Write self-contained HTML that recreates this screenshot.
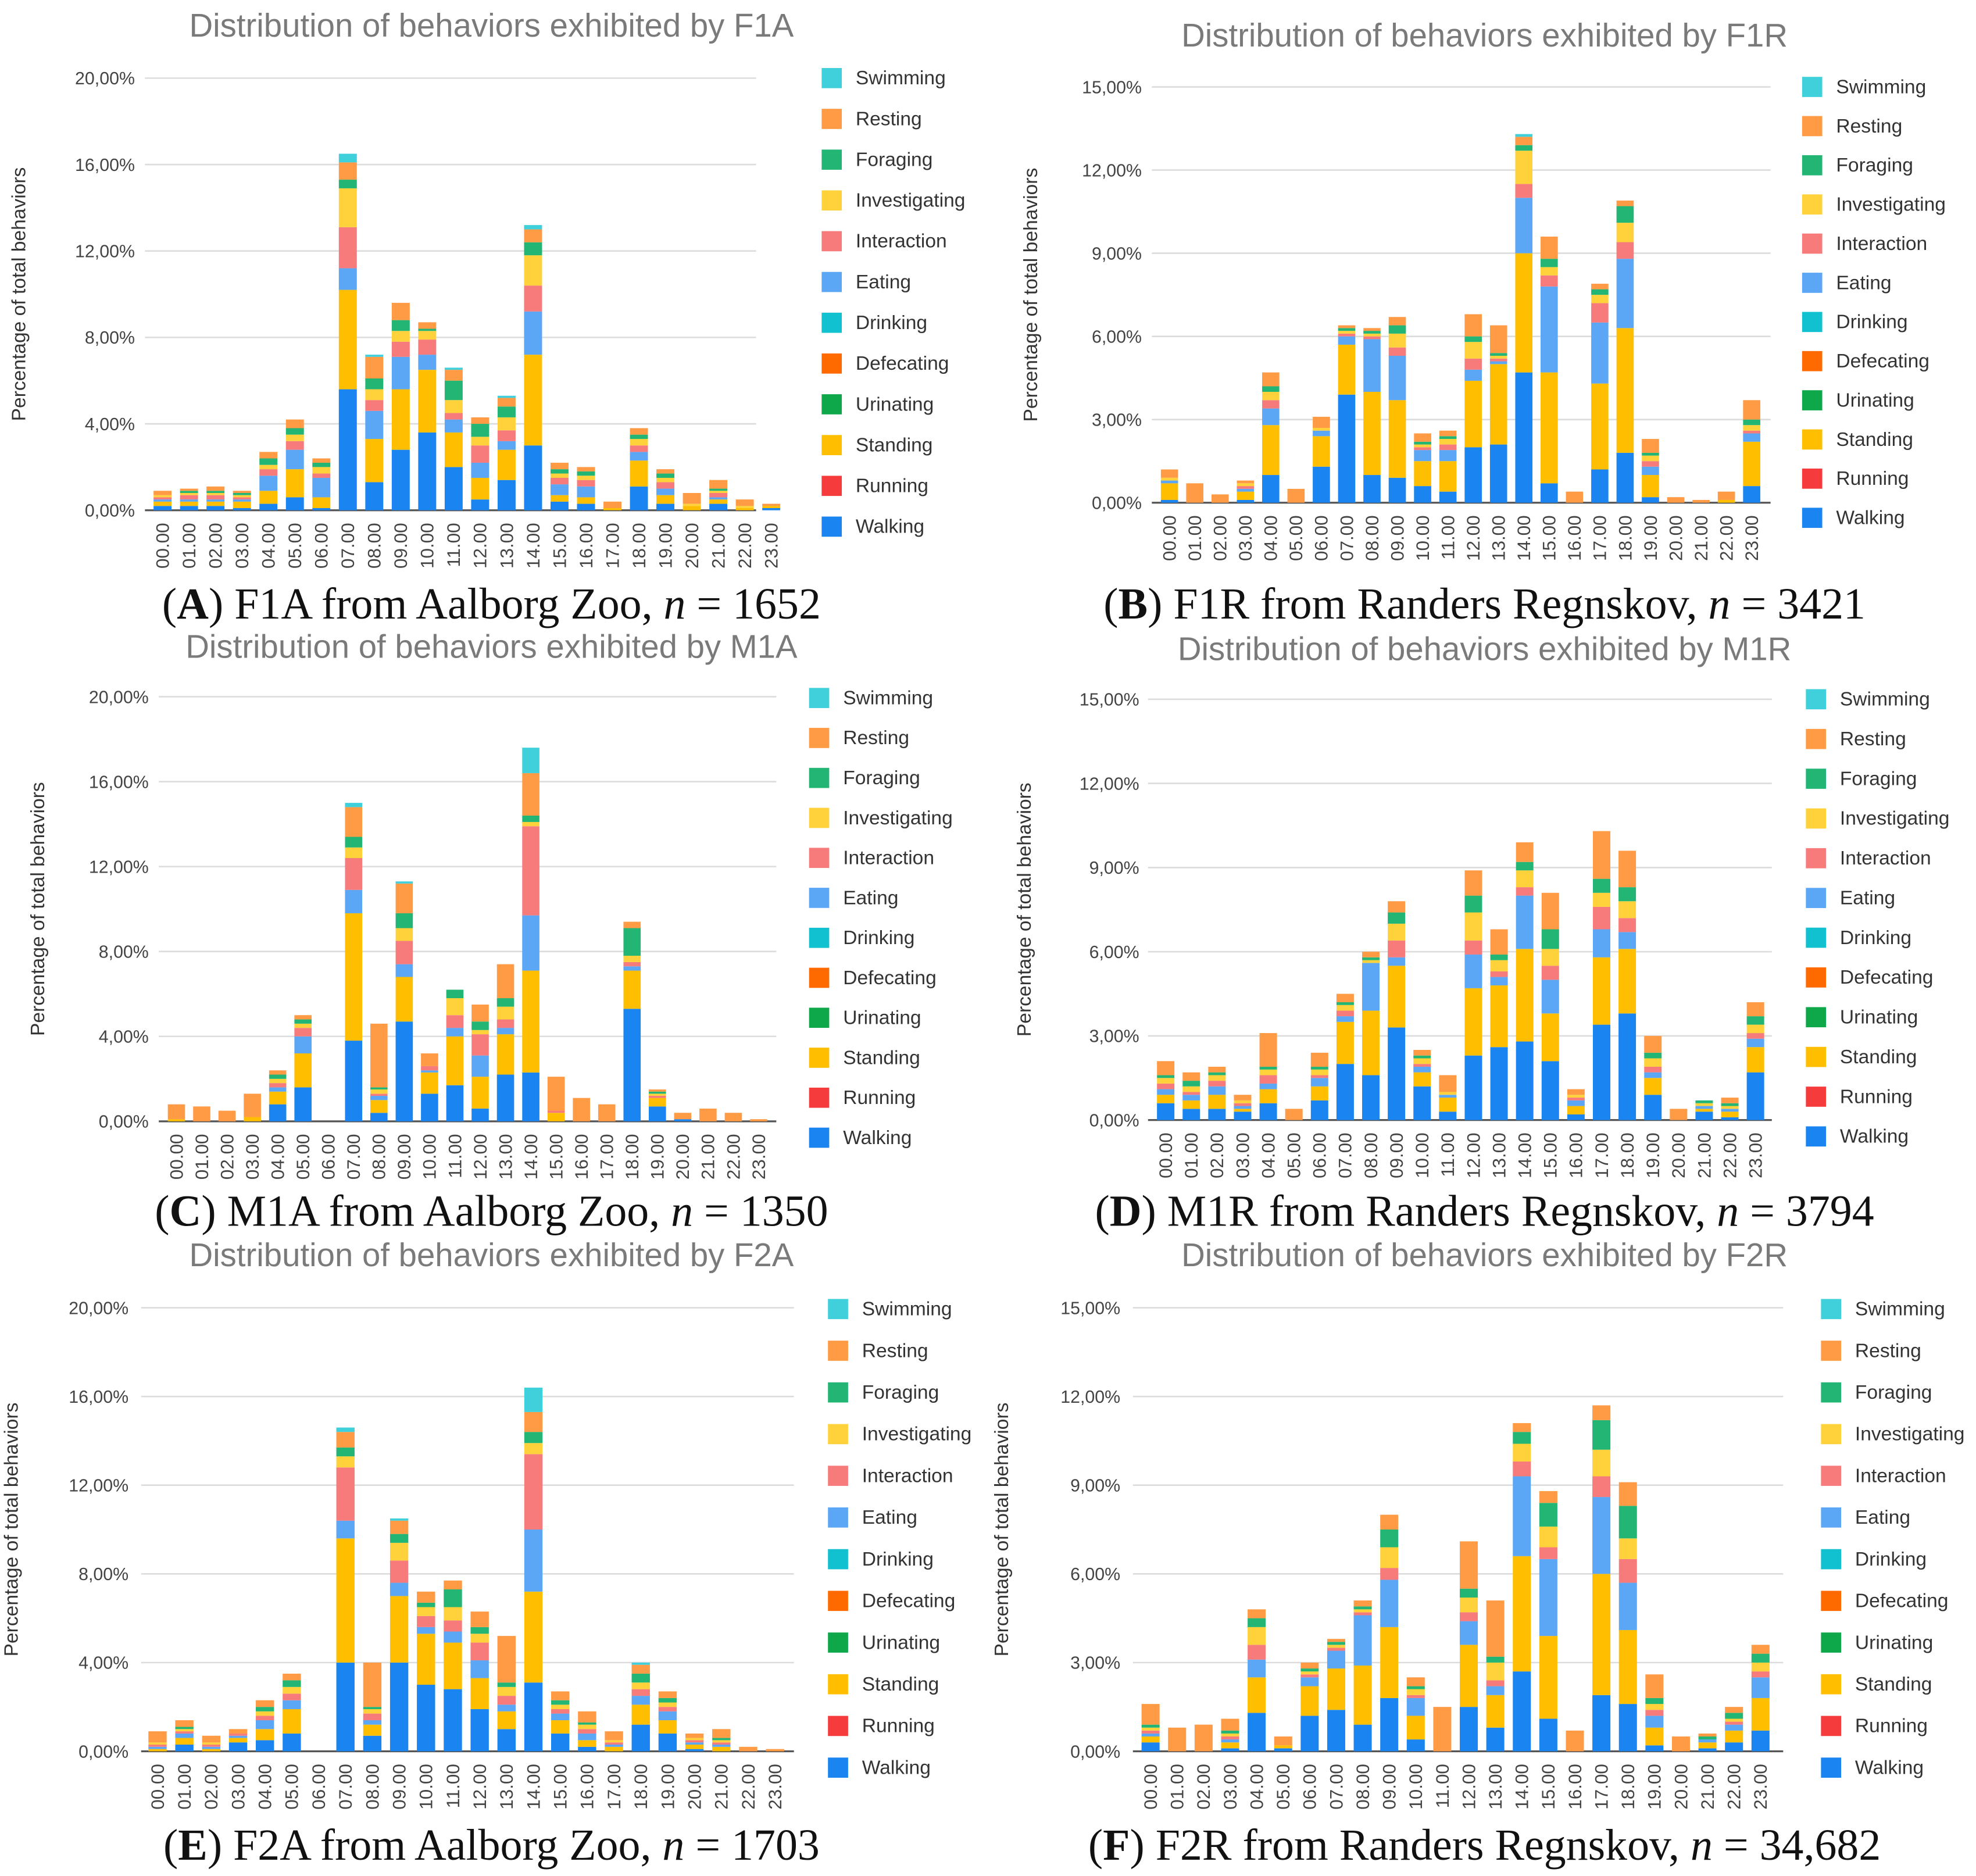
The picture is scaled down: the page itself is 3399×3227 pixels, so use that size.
<!DOCTYPE html>
<html><head><meta charset="utf-8">
<style>
html,body{margin:0;padding:0;background:#fff;}
svg{display:block;}
</style></head>
<body>
<svg id="fig" xmlns="http://www.w3.org/2000/svg" width="3399" height="3227" viewBox="0 0 1568 1489" preserveAspectRatio="none"></svg>
<script>
const hourLabels=["00.00","01.00","02.00","03.00","04.00","05.00","06.00","07.00","08.00","09.00","10.00","11.00","12.00","13.00","14.00","15.00","16.00","17.00","18.00","19.00","20.00","21.00","22.00","23.00"];
const legendNames=["Swimming","Resting","Foraging","Investigating","Interaction","Eating","Drinking","Defecating","Urinating","Standing","Running","Walking"];
const stackOrder=["Walking","Standing","Eating","Interaction","Investigating","Foraging","Resting","Swimming"];
const ticksA=[0,4,8,12,16,20];
const ticksR=[0,3,6,9,12,15];

const F1A_walking=[0.2,0.2,0.2,0.1,0.3,0.6,0.1,5.6,1.3,2.8,3.6,2.0,0.5,1.4,3.0,0.4,0.3,0,1.1,0.3,0,0.3,0,0.1];
const F1A_standing=[0.2,0.2,0.2,0.3,0.6,1.3,0.5,4.6,2.0,2.8,2.9,1.6,1.0,1.4,4.2,0.3,0.3,0.1,1.2,0.4,0.2,0.2,0.1,0.1];
const F1A_eating=[0.1,0.1,0.1,0.1,0.7,0.9,0.9,1.0,1.3,1.5,0.7,0.6,0.7,0.4,2.0,0.5,0.5,0,0.4,0.3,0,0.1,0,0];
const F1A_interaction=[0.1,0.2,0.2,0.1,0.3,0.4,0.2,1.9,0.5,0.7,0.7,0.3,0.8,0.5,1.2,0.3,0.3,0,0.3,0.3,0,0.2,0,0];
const F1A_investigating=[0.1,0.1,0.1,0.1,0.2,0.3,0.3,1.8,0.5,0.5,0.4,0.6,0.4,0.6,1.4,0.2,0.2,0,0.3,0.2,0.1,0.1,0.1,0];
const F1A_foraging=[0,0.1,0.1,0.1,0.3,0.3,0.2,0.4,0.5,0.5,0.1,0.9,0.6,0.5,0.6,0.2,0.2,0,0.2,0.2,0,0.1,0,0];
const F1A_resting=[0.2,0.1,0.2,0.1,0.3,0.4,0.2,0.8,1.0,0.8,0.3,0.5,0.3,0.4,0.6,0.3,0.2,0.3,0.3,0.2,0.5,0.4,0.3,0.1];
const F1A_swimming=[0,0,0,0,0,0,0,0.4,0.1,0,0,0.1,0,0.1,0.2,0,0,0,0,0,0,0,0,0];

const F1R_walking=[0.1,0,0,0.1,1.0,0,1.3,3.9,1.0,0.9,0.6,0.4,2.0,2.1,4.7,0.7,0,1.2,1.8,0.2,0,0,0,0.6];
const F1R_standing=[0.6,0,0,0.3,1.8,0,1.1,1.8,3.0,2.8,0.9,1.1,2.4,2.9,4.3,4.0,0,3.1,4.5,0.8,0,0,0.1,1.6];
const F1R_eating=[0.1,0,0,0.1,0.6,0,0.2,0.3,1.9,1.6,0.4,0.4,0.4,0.1,2.0,3.1,0,2.2,2.5,0.3,0,0,0,0.3];
const F1R_interaction=[0,0,0,0.1,0.3,0,0,0.1,0.1,0.3,0.1,0.2,0.4,0.1,0.5,0.4,0,0.7,0.6,0.2,0,0,0,0.1];
const F1R_investigating=[0.1,0,0,0.1,0.3,0,0.1,0.1,0.1,0.5,0.1,0.2,0.6,0.1,1.2,0.3,0,0.3,0.7,0.2,0,0,0,0.2];
const F1R_foraging=[0,0,0,0,0.2,0,0,0.1,0.1,0.3,0.1,0.1,0.2,0.1,0.2,0.3,0,0.2,0.6,0.1,0,0,0,0.2];
const F1R_resting=[0.3,0.7,0.3,0.1,0.5,0.5,0.4,0.1,0.1,0.3,0.3,0.2,0.8,1.0,0.3,0.8,0.4,0.2,0.2,0.5,0.2,0.1,0.3,0.7];
const F1R_swimming=[0,0,0,0,0,0,0,0,0,0,0,0,0,0,0.1,0,0,0,0,0,0,0,0,0];

const M1A_walking=[0,0,0,0,0.8,1.6,0,3.8,0.4,4.7,1.3,1.7,0.6,2.2,2.3,0,0,0,5.3,0.7,0.1,0,0,0];
const M1A_standing=[0.1,0,0,0.2,0.6,1.6,0,6.0,0.6,2.1,1.0,2.3,1.5,1.9,4.8,0.4,0,0,1.8,0.4,0,0,0,0];
const M1A_eating=[0,0,0,0,0.2,0.8,0,1.1,0.2,0.6,0.1,0.4,1.0,0.3,2.6,0,0,0,0.2,0,0,0,0,0];
const M1A_interaction=[0,0,0,0,0.2,0.4,0,1.5,0.1,1.1,0.2,0.6,1.0,0.4,4.2,0.1,0,0,0.2,0.1,0,0,0,0];
const M1A_investigating=[0,0,0,0,0.2,0.2,0,0.5,0.2,0.6,0,0.8,0.2,0.6,0.2,0,0,0,0.3,0.1,0,0,0,0];
const M1A_foraging=[0,0,0,0,0.2,0.2,0,0.5,0.1,0.7,0,0.4,0.4,0.4,0.3,0,0,0,1.3,0.1,0,0,0,0];
const M1A_resting=[0.7,0.7,0.5,1.1,0.2,0.2,0,1.4,3.0,1.4,0.6,0,0.8,1.6,2.0,1.6,1.1,0.8,0.3,0.1,0.3,0.6,0.4,0.1];
const M1A_swimming=[0,0,0,0,0,0,0,0.2,0,0.1,0,0,0,0,1.2,0,0,0,0,0,0,0,0,0];

const M1R_walking=[0.6,0.4,0.4,0.3,0.6,0,0.7,2.0,1.6,3.3,1.2,0.3,2.3,2.6,2.8,2.1,0.2,3.4,3.8,0.9,0,0.3,0.1,1.7];
const M1R_standing=[0.3,0.3,0.5,0.1,0.5,0,0.5,1.5,2.3,2.2,0.5,0.5,2.4,2.2,3.3,1.7,0.3,2.4,2.3,0.6,0,0.1,0.2,0.9];
const M1R_eating=[0.2,0.2,0.3,0.1,0.2,0,0.3,0.2,1.7,0.3,0.2,0.1,1.2,0.3,1.9,1.2,0.2,1.0,0.6,0.2,0,0.1,0.1,0.3];
const M1R_interaction=[0.2,0.1,0.2,0.1,0.3,0,0.1,0.2,0,0.6,0.1,0,0.5,0.2,0.3,0.5,0.1,0.8,0.5,0.2,0,0,0,0.2];
const M1R_investigating=[0.2,0.2,0.2,0.1,0.2,0,0.2,0.2,0.1,0.6,0.2,0.1,1.0,0.4,0.6,0.6,0.1,0.5,0.6,0.3,0,0.1,0.1,0.3];
const M1R_foraging=[0.1,0.2,0.1,0,0.1,0,0.1,0.1,0.1,0.4,0.1,0,0.6,0.2,0.3,0.7,0,0.5,0.5,0.2,0,0.1,0.1,0.3];
const M1R_resting=[0.5,0.3,0.2,0.2,1.2,0.4,0.5,0.3,0.2,0.4,0.2,0.6,0.9,0.9,0.7,1.3,0.2,1.7,1.3,0.6,0.4,0,0.2,0.5];
const M1R_swimming=[0,0,0,0,0,0,0,0,0,0,0,0,0,0,0,0,0,0,0,0,0,0,0,0];

const F2A_walking=[0,0.3,0,0.4,0.5,0.8,0,4.0,0.7,4.0,3.0,2.8,1.9,1.0,3.1,0.8,0.2,0,1.2,0.8,0.1,0,0,0];
const F2A_standing=[0.1,0.3,0.1,0.2,0.5,1.1,0,5.6,0.5,3.0,2.3,2.1,1.4,0.8,4.1,0.6,0.3,0.2,0.9,0.6,0.2,0.2,0,0];
const F2A_eating=[0.1,0.2,0.1,0.1,0.4,0.4,0,0.8,0.2,0.6,0.3,0.5,0.8,0.3,2.8,0.3,0.3,0.1,0.4,0.4,0.1,0.1,0,0];
const F2A_interaction=[0.1,0.1,0.1,0.1,0.2,0.3,0,2.4,0.3,1.0,0.5,0.5,0.8,0.4,3.4,0.2,0.2,0.1,0.3,0.2,0.1,0.1,0,0];
const F2A_investigating=[0.1,0.1,0.1,0,0.2,0.3,0,0.5,0.2,0.8,0.4,0.6,0.4,0.4,0.5,0.2,0.2,0.1,0.3,0.2,0.1,0.1,0,0];
const F2A_foraging=[0,0.1,0,0,0.2,0.3,0,0.4,0.1,0.4,0.2,0.8,0.3,0.2,0.5,0.2,0.1,0,0.4,0.2,0,0.1,0,0];
const F2A_resting=[0.5,0.3,0.3,0.2,0.3,0.3,0,0.7,2.0,0.6,0.5,0.4,0.7,2.1,0.9,0.4,0.5,0.4,0.4,0.3,0.2,0.4,0.2,0.1];
const F2A_swimming=[0,0,0,0,0,0,0,0.2,0,0.1,0,0,0,0,1.1,0,0,0,0.1,0,0,0,0,0];

const F2R_walking=[0.3,0,0,0.1,1.3,0.1,1.2,1.4,0.9,1.8,0.4,0,1.5,0.8,2.7,1.1,0,1.9,1.6,0.2,0,0.1,0.3,0.7];
const F2R_standing=[0.2,0,0,0.2,1.2,0.1,1.0,1.4,2.0,2.4,0.8,0,2.1,1.1,3.9,2.8,0,4.1,2.5,0.6,0,0.2,0.4,1.1];
const F2R_eating=[0.1,0,0,0.1,0.6,0,0.3,0.6,1.7,1.6,0.6,0,0.8,0.3,2.7,2.6,0,2.6,1.6,0.4,0,0.1,0.2,0.7];
const F2R_interaction=[0.1,0,0,0.1,0.5,0,0.1,0.1,0.1,0.4,0.1,0,0.3,0.2,0.5,0.4,0,0.7,0.8,0.2,0,0,0.1,0.2];
const F2R_investigating=[0.1,0,0,0.1,0.6,0,0.1,0.1,0.1,0.7,0.2,0,0.5,0.6,0.6,0.7,0,0.9,0.7,0.2,0,0,0.1,0.3];
const F2R_foraging=[0.1,0,0,0.1,0.3,0,0.1,0.1,0.1,0.6,0.1,0,0.3,0.2,0.4,0.8,0,1.0,1.1,0.2,0,0.1,0.2,0.3];
const F2R_resting=[0.7,0.8,0.9,0.4,0.3,0.3,0.2,0.1,0.2,0.5,0.3,1.5,1.6,1.9,0.3,0.4,0.7,0.5,0.8,0.8,0.5,0.1,0.2,0.3];
const F2R_swimming=[0,0,0,0,0,0,0,0,0,0,0,0,0,0,0,0,0,0,0,0,0,0,0,0];

const colors={Swimming:"#3fd0dc",Resting:"#ff9a45",Foraging:"#22b573",Investigating:"#ffd23c",Interaction:"#f77b7b",Eating:"#5ba6f5",Drinking:"#12c1cf",Defecating:"#ff6a00",Urinating:"#0ea84a",Standing:"#ffbf00",Running:"#f53b3b",Walking:"#1a85f0"};

const charts=[
 {id:"f1a",title:"Distribution of behaviors exhibited by F1A",cap:["A","F1A from Aalborg Zoo, ","1652"],max:20,ticks:ticksA,
  data:[F1A_walking,F1A_standing,F1A_eating,F1A_interaction,F1A_investigating,F1A_foraging,F1A_resting,F1A_swimming],
  y0:405,yTop:62,x0:129,x1:612,gx0:115,gx1:600,tickX:107,legX:652,legY0:62,legY1:418,titleX:390,titleY:20,ytX:20,capY:480,capX:390},
 {id:"f1r",title:"Distribution of behaviors exhibited by F1R",cap:["B","F1R from Randers Regnskov, ","3421"],max:15,ticks:ticksR,
  data:[F1R_walking,F1R_standing,F1R_eating,F1R_interaction,F1R_investigating,F1R_foraging,F1R_resting,F1R_swimming],
  y0:399,yTop:69,x0:928,x1:1390,gx0:914,gx1:1405,tickX:906,legX:1430,legY0:69,legY1:411,titleX:1178,titleY:28,ytX:823,capY:480,capX:1178},
 {id:"m1a",title:"Distribution of behaviors exhibited by M1A",cap:["C","M1A from Aalborg Zoo, ","1350"],max:20,ticks:ticksA,
  data:[M1A_walking,M1A_standing,M1A_eating,M1A_interaction,M1A_investigating,M1A_foraging,M1A_resting,M1A_swimming],
  y0:890,yTop:553,x0:140,x1:602,gx0:126,gx1:616,tickX:118,legX:642,legY0:554,legY1:903,titleX:390,titleY:513,ytX:35,capY:962,capX:390},
 {id:"m1r",title:"Distribution of behaviors exhibited by M1R",cap:["D","M1R from Randers Regnskov, ","3794"],max:15,ticks:ticksR,
  data:[M1R_walking,M1R_standing,M1R_eating,M1R_interaction,M1R_investigating,M1R_foraging,M1R_resting,M1R_swimming],
  y0:889,yTop:555,x0:925,x1:1393,gx0:911,gx1:1406,tickX:904,legX:1433,legY0:555,legY1:902,titleX:1178,titleY:515,ytX:818,capY:962,capX:1178},
 {id:"f2a",title:"Distribution of behaviors exhibited by F2A",cap:["E","F2A from Aalborg Zoo, ","1703"],max:20,ticks:ticksA,
  data:[F2A_walking,F2A_standing,F2A_eating,F2A_interaction,F2A_investigating,F2A_foraging,F2A_resting,F2A_swimming],
  y0:1390,yTop:1038,x0:125,x1:615,gx0:112,gx1:630,tickX:102,legX:657,legY0:1039,legY1:1403,titleX:390,titleY:996,ytX:14,capY:1465,capX:390},
 {id:"f2r",title:"Distribution of behaviors exhibited by F2R",cap:["F","F2R from Randers Regnskov, ","34,682"],max:15,ticks:ticksR,
  data:[F2R_walking,F2R_standing,F2R_eating,F2R_interaction,F2R_investigating,F2R_foraging,F2R_resting,F2R_swimming],
  y0:1390,yTop:1038,x0:913,x1:1397,gx0:899,gx1:1415,tickX:889,legX:1445,legY0:1039,legY1:1403,titleX:1178,titleY:996,ytX:800,capY:1465,capX:1178}
];

const NS="http://www.w3.org/2000/svg";
const svg=document.getElementById("fig");
function mk(tag,attrs,parent){const e=document.createElementNS(NS,tag);for(const k in attrs)e.setAttribute(k,attrs[k]);(parent||svg).appendChild(e);return e;}

charts.forEach(c=>{
  const g=mk("g",{});
  
  
  const yS=v=>c.y0-(v/c.max)*(c.y0-c.yTop);
  const step=(c.x1-c.x0)/23;
  const xS=i=>c.x0+i*step;
  const bw=step*0.68;
  const t=mk("text",{x:c.titleX,y:c.titleY+9,"text-anchor":"middle","font-family":"Liberation Sans, sans-serif","font-size":"26",fill:"#7a7a7a"},g);
  t.textContent=c.title;
  
  
  c.ticks.forEach(v=>{
    const ln=mk("line",{x1:c.gx0,x2:c.gx1,y1:yS(v),y2:yS(v),stroke:v===0?"#555":"#dcdcdc","stroke-width":v===0?1.5:1.2},g);
    
    
    const tl=mk("text",{x:c.tickX,y:yS(v)+5,"text-anchor":"end","font-family":"Liberation Sans, sans-serif","font-size":"14",fill:"#444"},g);
    tl.textContent=v.toFixed(2).replace(".",",")+"%";
    
    
  });
  const ym=(c.y0+c.yTop)/2;
  const yt=mk("text",{x:c.ytX,y:ym,"text-anchor":"middle",transform:`rotate(-90 ${c.ytX} ${ym})`,"font-family":"Liberation Sans, sans-serif","font-size":"15.5",fill:"#333"},g);
  yt.textContent="Percentage of total behaviors";
  
  
  hourLabels.forEach((h,i)=>{
    let acc=0;
    stackOrder.forEach((s,k)=>{
      const v=c.data[k][i];
      if(v<=0)return;
      const r=mk("rect",{x:xS(i)-bw/2,y:yS(acc+v),width:bw,height:yS(acc)-yS(acc+v),fill:colors[s]},g);
      
      
      acc+=v;
    });
    const xl=mk("text",{x:xS(i)+5,y:c.y0+10,"text-anchor":"end",transform:`rotate(-90 ${xS(i)+5} ${c.y0+10})`,"font-family":"Liberation Sans, sans-serif","font-size":"14.5",fill:"#444"},g);
    xl.textContent=h;
    
    
  });
  const ls=(c.legY1-c.legY0)/11;
  legendNames.forEach((n,i)=>{
    const yy=c.legY0+i*ls;
    const m=mk("rect",{x:c.legX,y:yy-8,width:16,height:16,fill:colors[n]},g);
    
    
    const lt=mk("text",{x:c.legX+27,y:yy+5,"font-family":"Liberation Sans, sans-serif","font-size":"15.5",fill:"#333"},g);
    lt.textContent=n;
    
    
  });
  const cp=mk("text",{x:c.capX,y:c.capY+11,"text-anchor":"middle","font-family":"Liberation Serif, serif","font-size":"35",fill:"#111"},g);
  
  
  const s1=mk("tspan",{},cp);s1.textContent="(";
  const s2=mk("tspan",{"font-weight":"bold"},cp);s2.textContent=c.cap[0];
  const s3=mk("tspan",{},cp);s3.textContent=") "+c.cap[1];
  const s4=mk("tspan",{"font-style":"italic"},cp);s4.textContent="n";
  const s5=mk("tspan",{},cp);s5.textContent=" = "+c.cap[2];
});
</script>
</body></html>
